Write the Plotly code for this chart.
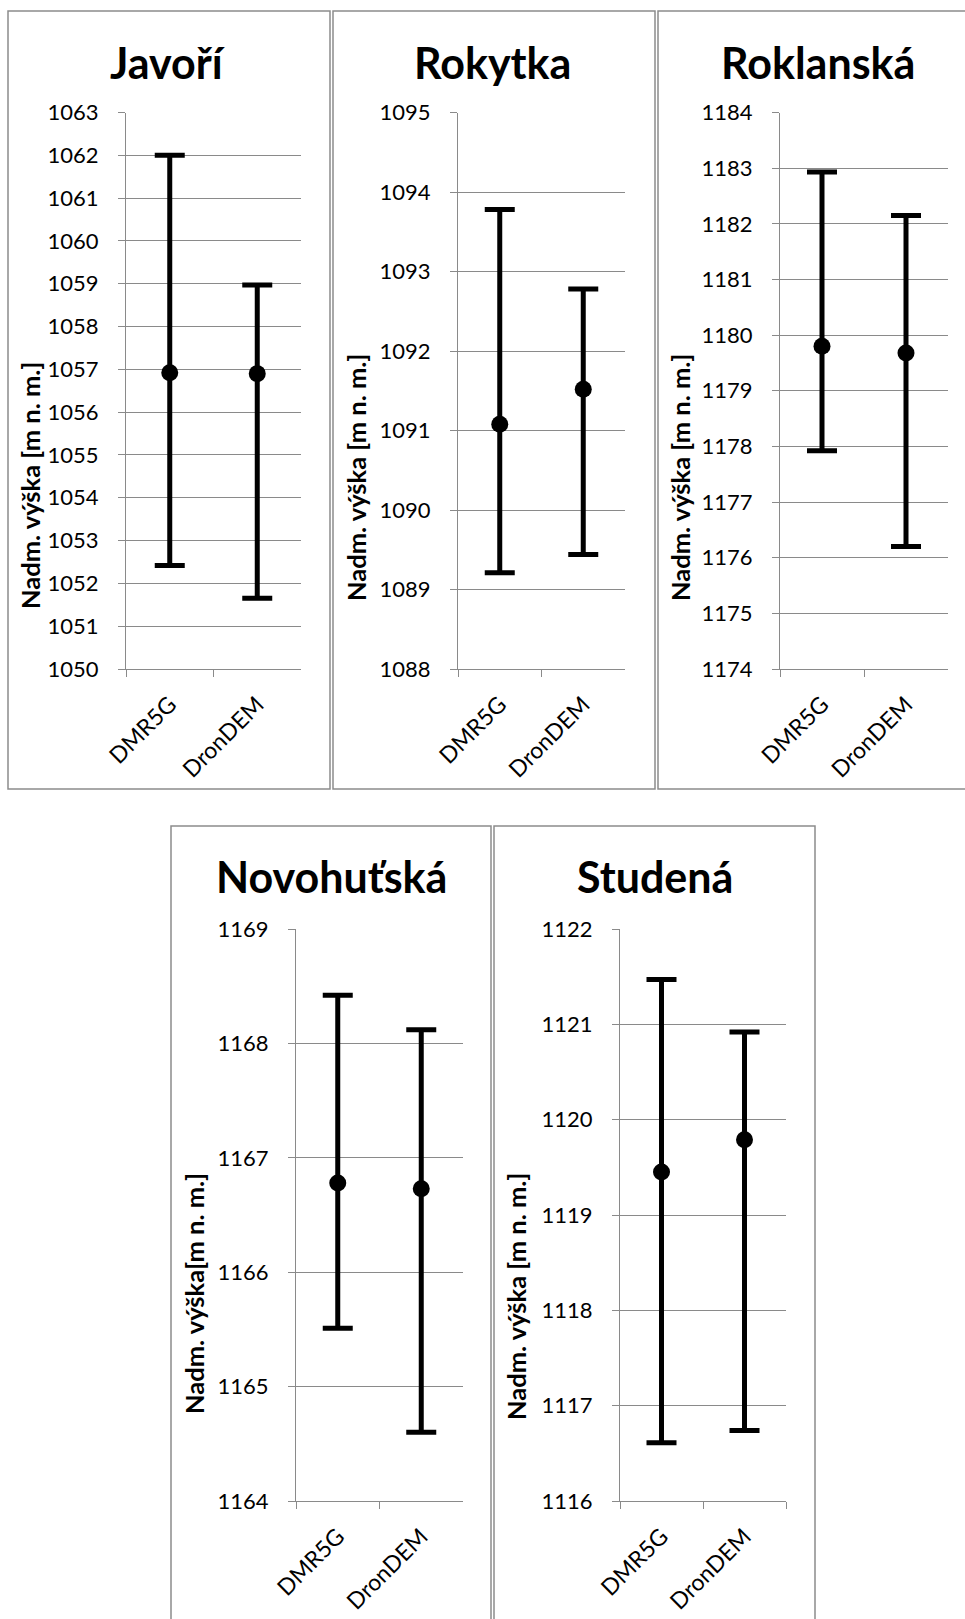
import plotly.graph_objects as go

W, H = 965, 1619

categories = ["DMR5G", "DronDEM"]
sites = ["Javoří", "Rokytka", "Roklanská", "Novohuťská", "Studená"]

javori_mean = [1056.92, 1056.90]
javori_max = [1062.00, 1058.97]
javori_min = [1052.42, 1051.65]

rokytka_mean = [1091.08, 1091.52]
rokytka_max = [1093.78, 1092.78]
rokytka_min = [1089.21, 1089.44]

roklanska_mean = [1179.80, 1179.68]
roklanska_max = [1182.93, 1182.15]
roklanska_min = [1177.92, 1176.20]

novohutska_mean = [1166.78, 1166.73]
novohutska_max = [1168.42, 1168.12]
novohutska_min = [1165.51, 1164.60]

studena_mean = [1119.45, 1119.79]
studena_max = [1121.47, 1120.92]
studena_min = [1116.61, 1116.74]

y_ranges = [[1050, 1063], [1088, 1095], [1174, 1184], [1164, 1169], [1116, 1122]]
y_titles = ["Nadm. výška [m n. m.]", "Nadm. výška [m n. m.]", "Nadm. výška [m n. m.]",
            "Nadm. výška[m n. m.]", "Nadm. výška [m n. m.]"]

means = [javori_mean, rokytka_mean, roklanska_mean, novohutska_mean, studena_mean]
maxs = [javori_max, rokytka_max, roklanska_max, novohutska_max, studena_max]
mins = [javori_min, rokytka_min, roklanska_min, novohutska_min, studena_min]

# layout geometry (pixels)
plot_x = [(126, 301), (458, 625), (780, 948), (296, 463), (620, 786)]
plot_y = [(112.5, 669), (112.5, 669), (112.5, 669), (929, 1501), (929, 1501)]
panel_box = [(8, 11, 330, 789), (333, 11, 655, 789), (658, 11, 982, 789),
             (171, 826, 491, 1640), (494, 826, 815, 1640)]
title_pos = [(168, 62), (493, 62), (818, 62), (331, 876), (655, 876)]
ytitle_pos = [(30, 486), (356, 478), (680, 478), (194, 1294), (516, 1297)]

FONT = "Lato, 'Open Sans', sans-serif"
GRID = "#8a8a8a"


def px(x):
    return x / W


def py(y):
    return 1 - y / H


fig = go.Figure()
layout = dict(width=W, height=H, autosize=False,
              margin=dict(l=0, r=0, t=0, b=0, pad=0, autoexpand=False),
              paper_bgcolor="white", plot_bgcolor="white", showlegend=False)
annotations = []
shapes = []

for i in range(5):
    n = "" if i == 0 else str(i + 1)
    err_up = [mx - m for mx, m in zip(maxs[i], means[i])]
    err_dn = [m - mn for m, mn in zip(means[i], mins[i])]
    fig.add_trace(go.Scatter(
        x=categories, y=means[i], mode="markers",
        marker=dict(color="black", size=17),
        error_y=dict(type="data", symmetric=False, array=err_up, arrayminus=err_dn,
                     color="black", thickness=5, width=15),
        xaxis="x" + n, yaxis="y" + n, cliponaxis=False,
    ))
    x0, x1 = plot_x[i]
    y0, y1 = plot_y[i]
    layout["xaxis" + n] = dict(
        domain=[px(x0), px(x1)], anchor="y" + n, type="category",
        categoryorder="array", categoryarray=categories, range=[-0.5, 1.5],
        tickson="boundaries", ticks="outside", ticklen=7, tickcolor=GRID, tickwidth=1,
        showline=True, linecolor=GRID, linewidth=1, showgrid=False,
        tickangle=-45, tickfont=dict(family=FONT, size=23, color="black"),
        ticklabelstandoff=12, fixedrange=True, automargin=False,
    )
    layout["yaxis" + n] = dict(
        domain=[py(y1), py(y0)], anchor="x" + n, range=y_ranges[i],
        tick0=y_ranges[i][0], dtick=1, showgrid=True, gridcolor=GRID, gridwidth=1,
        showline=True, linecolor=GRID, linewidth=1, zeroline=False,
        ticks="outside", ticklen=7, tickcolor=GRID, tickwidth=1,
        tickfont=dict(family=FONT, size=22, color="black"),
        ticklabelstandoff=15, fixedrange=True, automargin=False,
    )
    tx, ty = title_pos[i]
    annotations.append(dict(
        text=sites[i], x=px(tx), y=py(ty), xref="paper", yref="paper",
        xanchor="center", yanchor="middle", showarrow=False,
        font=dict(family=FONT, size=43, color="black", weight="bold"),
    ))
    ax, ay = ytitle_pos[i]
    annotations.append(dict(
        text=y_titles[i], x=px(ax), y=py(ay), xref="paper", yref="paper",
        xanchor="center", yanchor="middle", showarrow=False, textangle=-90,
        font=dict(family=FONT, size=25.5, color="black", weight="bold"),
    ))
    bx0, by0, bx1, by1 = panel_box[i]
    shapes.append(dict(
        type="rect", xref="paper", yref="paper",
        x0=px(bx0), x1=px(bx1), y0=py(by1), y1=py(by0),
        line=dict(color="#8c8c8c", width=1.5), fillcolor="rgba(0,0,0,0)", layer="below",
    ))

layout["annotations"] = annotations
layout["shapes"] = shapes
fig.update_layout(**layout)
fig.write_html(
    "out.html",
    config={"displayModeBar": False},
    post_script="document.body.style.margin='0';document.body.style.overflow='hidden';",
)
